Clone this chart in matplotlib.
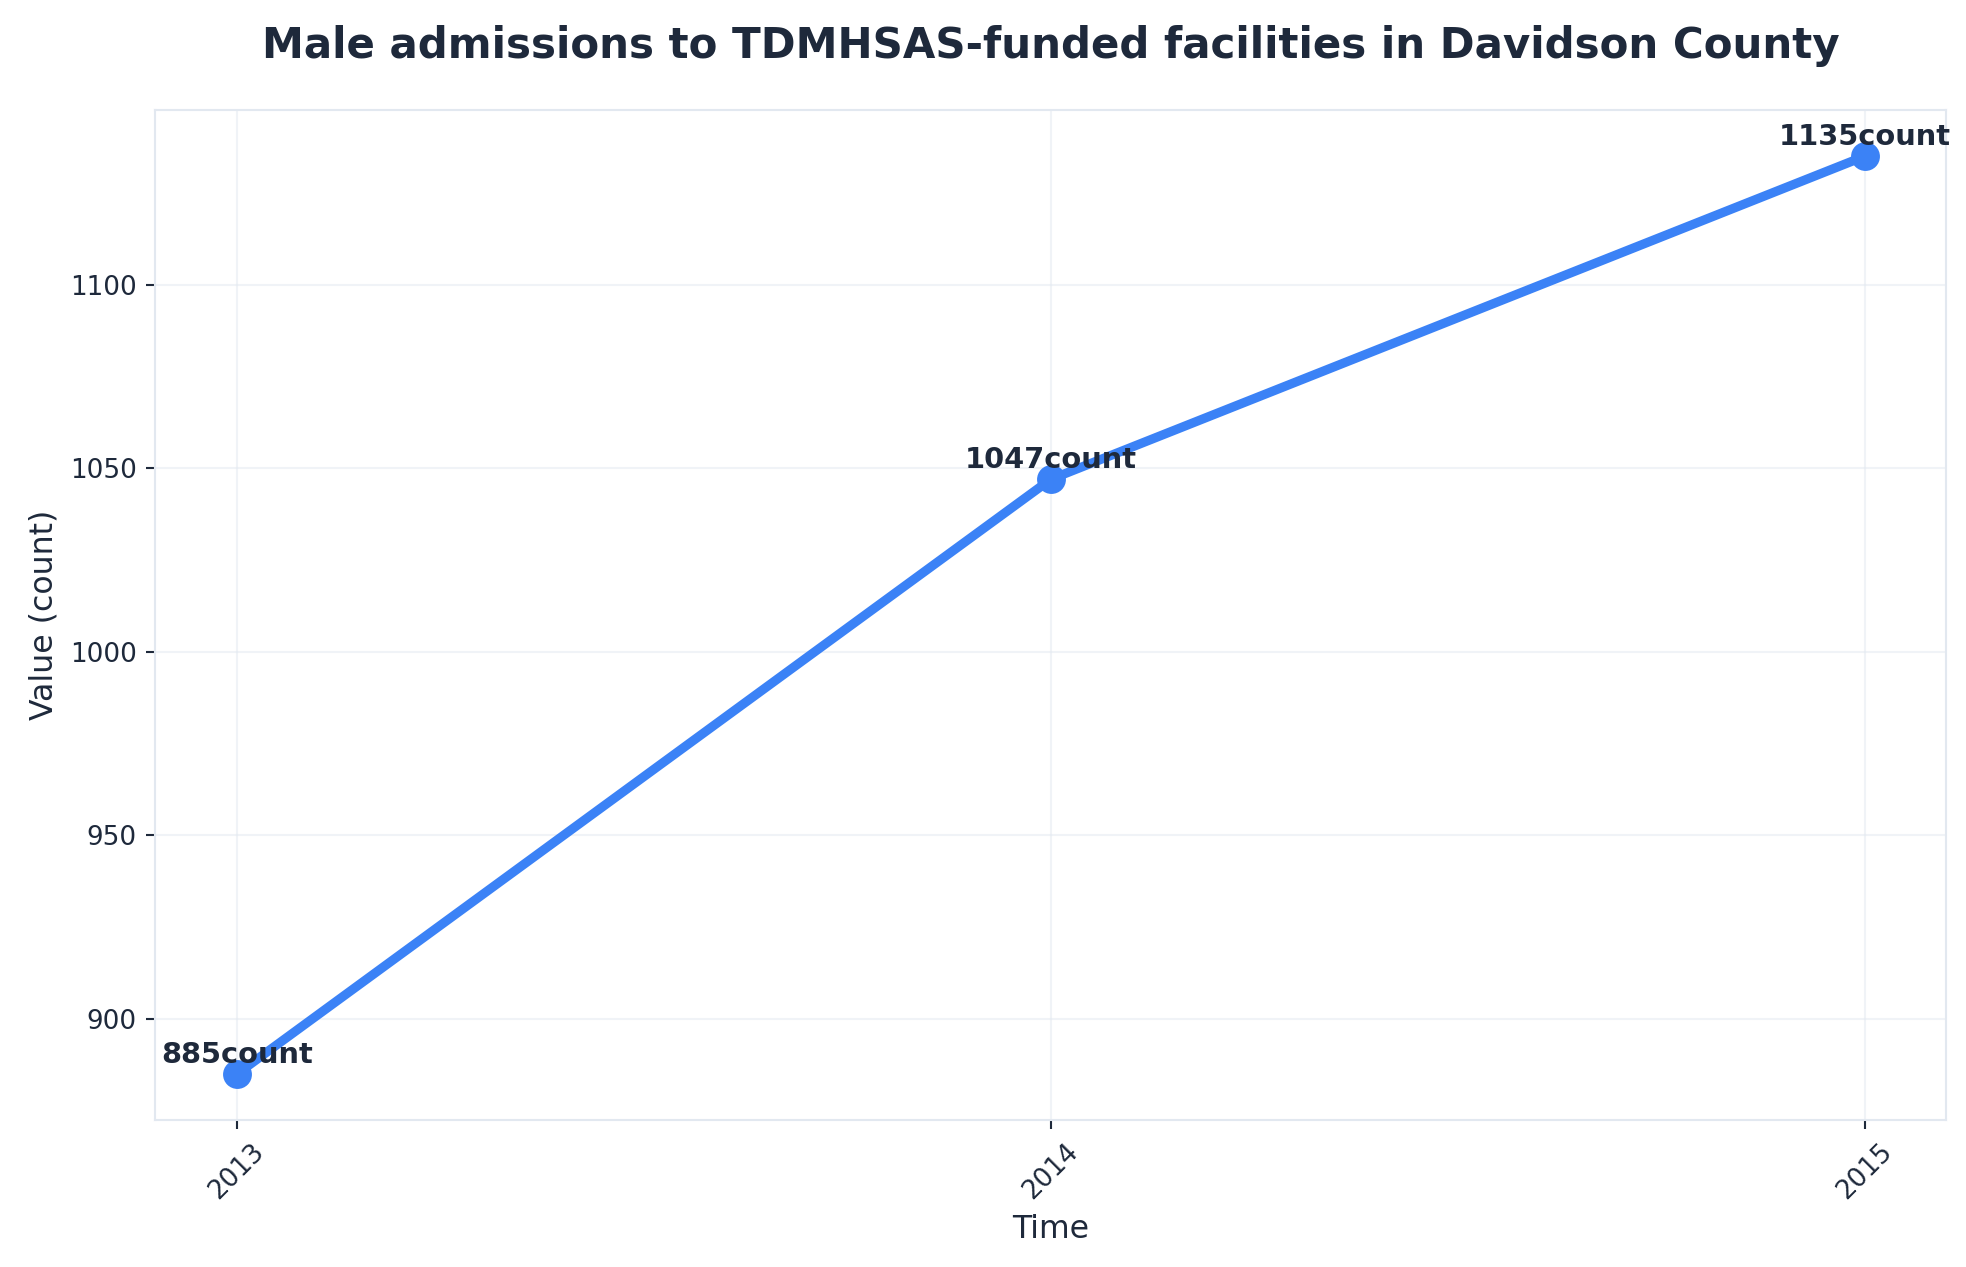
import matplotlib
matplotlib.use("Agg")
import matplotlib.pyplot as plt

years = ["2013", "2014", "2015"]
values = [885, 1047, 1135]

txt = "#1e293b"
DPI = 189
fig = plt.figure(figsize=(1966/DPI, 1267/DPI), dpi=DPI)
ax = fig.add_axes([0.079, 0.116, 0.911, 0.797])
x = list(range(len(years)))
ax.plot(x, values, color="#3b82f6", lw=3.5, marker="o", ms=10)
for xi, v in zip(x, values):
    ax.annotate(f"{v}count", (xi, v), xytext=(0, 2), textcoords="offset points",
                ha="center", va="bottom", fontsize=11, fontweight="bold", color=txt)
ax.set_xticks(x)
ax.set_xticklabels(years, rotation=45, color=txt)
ax.tick_params(colors=txt, labelsize=10)
ax.set_yticks([900, 950, 1000, 1050, 1100])
ax.grid(True, color="#e2e8f0", alpha=0.5, lw=0.8)
for s in ax.spines.values():
    s.set_color("#e2e8f0")
ax.set_xlabel("Time", fontsize=12, color=txt)
ax.set_ylabel("Value (count)", fontsize=12, color=txt)
ax.set_title("Male admissions to TDMHSAS-funded facilities in Davidson County",
             fontsize=16, fontweight="bold", color=txt, pad=20)
fig.savefig("out.png", dpi=DPI)
